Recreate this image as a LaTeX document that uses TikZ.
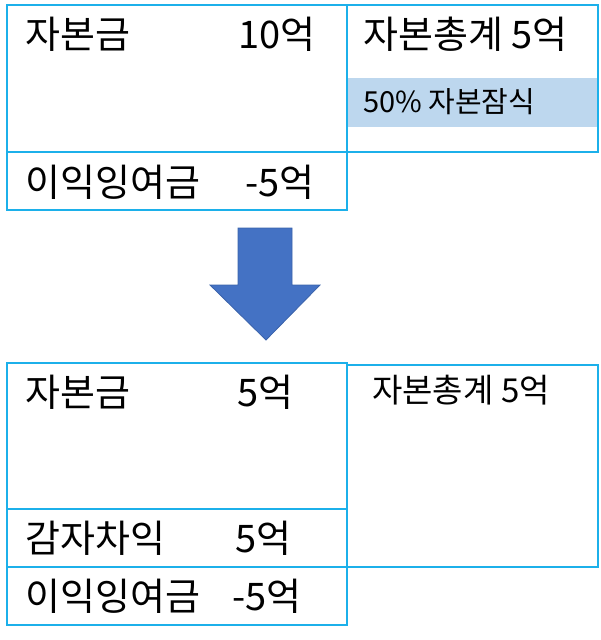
\documentclass[tikz,border=0pt]{standalone}
\usepackage{fontspec}
\setmainfont{Noto Sans CJK KR}
\begin{document}
\begin{tikzpicture}[x=1pt,y=-1pt,
  cell/.style={draw=boxblue,line width=1.6pt},
  big/.style={inner sep=0pt,anchor=west,font=\fontsize{38}{40}\selectfont},
  mid/.style={inner sep=0pt,anchor=west,font=\fontsize{33}{36}\selectfont},
  small/.style={inner sep=0pt,anchor=west,font=\fontsize{29}{31}\selectfont}]
\definecolor{boxblue}{HTML}{1CB0EA}
\definecolor{band}{HTML}{BDD7EE}
\definecolor{arrowfill}{HTML}{4472C4}
\definecolor{arrowline}{HTML}{3A62AA}
\useasboundingbox (0,0) rectangle (600,640);
% top section
\fill[band] (347,78) rectangle (598,127);
\draw[cell] (7,5) rectangle (347,152);
\draw[cell] (7,152) rectangle (347,210);
\draw[cell] (347,5) rectangle (598,152);
\node[big] (t1) at (25,34) {자본금};
\node[big] (t2) at (238,34) {10억};
\node[big] (t3) at (363,34) {자본총계 5억};
\node[small] (t4) at (363,102) {50\% 자본잠식};
\node[big] (t5) at (25,182) {이익잉여금};
\node[big] (t6) at (245,182) {-5억};
% arrow
\draw[fill=arrowfill,draw=arrowline,line width=0.8pt,line join=miter]
  (238,228) -- (292,228) -- (292,285) -- (320,285) -- (266,340) -- (210,285) -- (238,285) -- cycle;
% bottom section
\draw[cell] (7,363) rectangle (347,509);
\draw[cell] (7,509) rectangle (347,567);
\draw[cell] (7,567) rectangle (347,625);
\draw[cell] (347,365) rectangle (598,567);
\node[big] (b1) at (25,392) {자본금};
\node[big] (b2) at (237,392) {5억};
\node[mid] (b3) at (372,390) {자본총계 5억};
\node[big] (b4) at (25,538) {감자차익};
\node[big] (b5) at (235,538) {5억};
\node[big] (b6) at (25,596) {이익잉여금};
\node[big] (b7) at (232,596) {-5억};
\end{tikzpicture}
\end{document}
